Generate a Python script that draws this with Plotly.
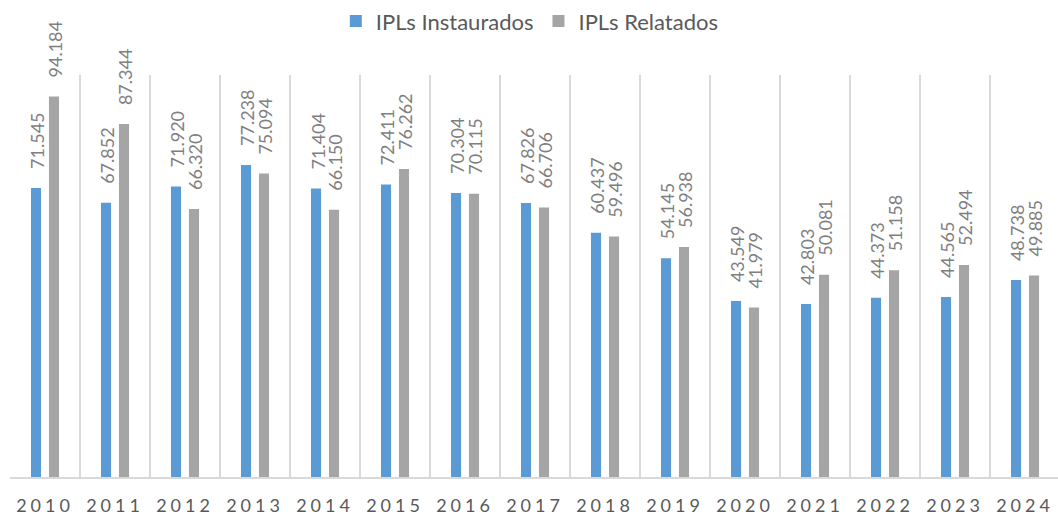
import plotly.graph_objects as go

years = ["2010", "2011", "2012", "2013", "2014", "2015", "2016", "2017",
         "2018", "2019", "2020", "2021", "2022", "2023", "2024"]
instaurados = [71545, 67852, 71920, 77238, 71404, 72411, 70304, 67826,
               60437, 54145, 43549, 42803, 44373, 44565, 48738]
relatados = [94184, 87344, 66320, 75094, 66150, 76262, 70115, 66706,
             59496, 56938, 41979, 50081, 51158, 52494, 49885]

FONT = "Lato"
BLUE = "#5B9BD5"
GRAY = "#A5A5A5"


def br(v):
    return f"{v:,}".replace(",", ".")


fig = go.Figure()
series = [("IPLs Instaurados", instaurados, BLUE, -9),
          ("IPLs Relatados", relatados, GRAY, 9)]
for name, vals, color, dx in series:
    fig.add_trace(go.Bar(
        name=name, x=years, y=vals, marker=dict(color=color, line=dict(width=0)),
        hoverinfo="x+y+name",
    ))
    for i, v in enumerate(vals):
        fig.add_annotation(
            x=i, y=v, xref="x", yref="y", text=br(v), showarrow=False,
            textangle=-90, xanchor="center", yanchor="bottom",
            xshift=dx + 1, yshift=18, borderpad=0,
            font=dict(family=FONT, size=18, color="#7F7F7F"),
        )

fig.update_layout(
    width=1058, height=516, autosize=False,
    separators=",.",
    barmode="group", bargap=0.486, bargroupgap=0.44,
    plot_bgcolor="white", paper_bgcolor="white",
    margin=dict(l=10, r=0, t=73, b=39, pad=0),
    font=dict(family=FONT, color="#595959"),
    legend=dict(orientation="h", x=0.496, xanchor="center", y=1.134, yanchor="middle",
                font=dict(size=22, color="#595959"), bgcolor="rgba(0,0,0,0)"),
    xaxis=dict(type="category", range=[-0.5, 14.471], tickson="boundaries",
               showgrid=True, gridcolor="#D9D9D9", gridwidth=2,
               showline=True, linecolor="#D9D9D9", linewidth=2,
               ticks="", ticklabelstandoff=11,
               tickfont=dict(family=FONT, size=18, color="#595959")),
    yaxis=dict(range=[0, 99500], visible=False, showgrid=False, zeroline=False),
)

post = ("var s=document.createElement('style');"
        "s.textContent='body{margin:0} .xtick text{letter-spacing:4px}';"
        "document.head.appendChild(s);")
fig.write_html("out.html", post_script=post, config={"displayModeBar": False})
